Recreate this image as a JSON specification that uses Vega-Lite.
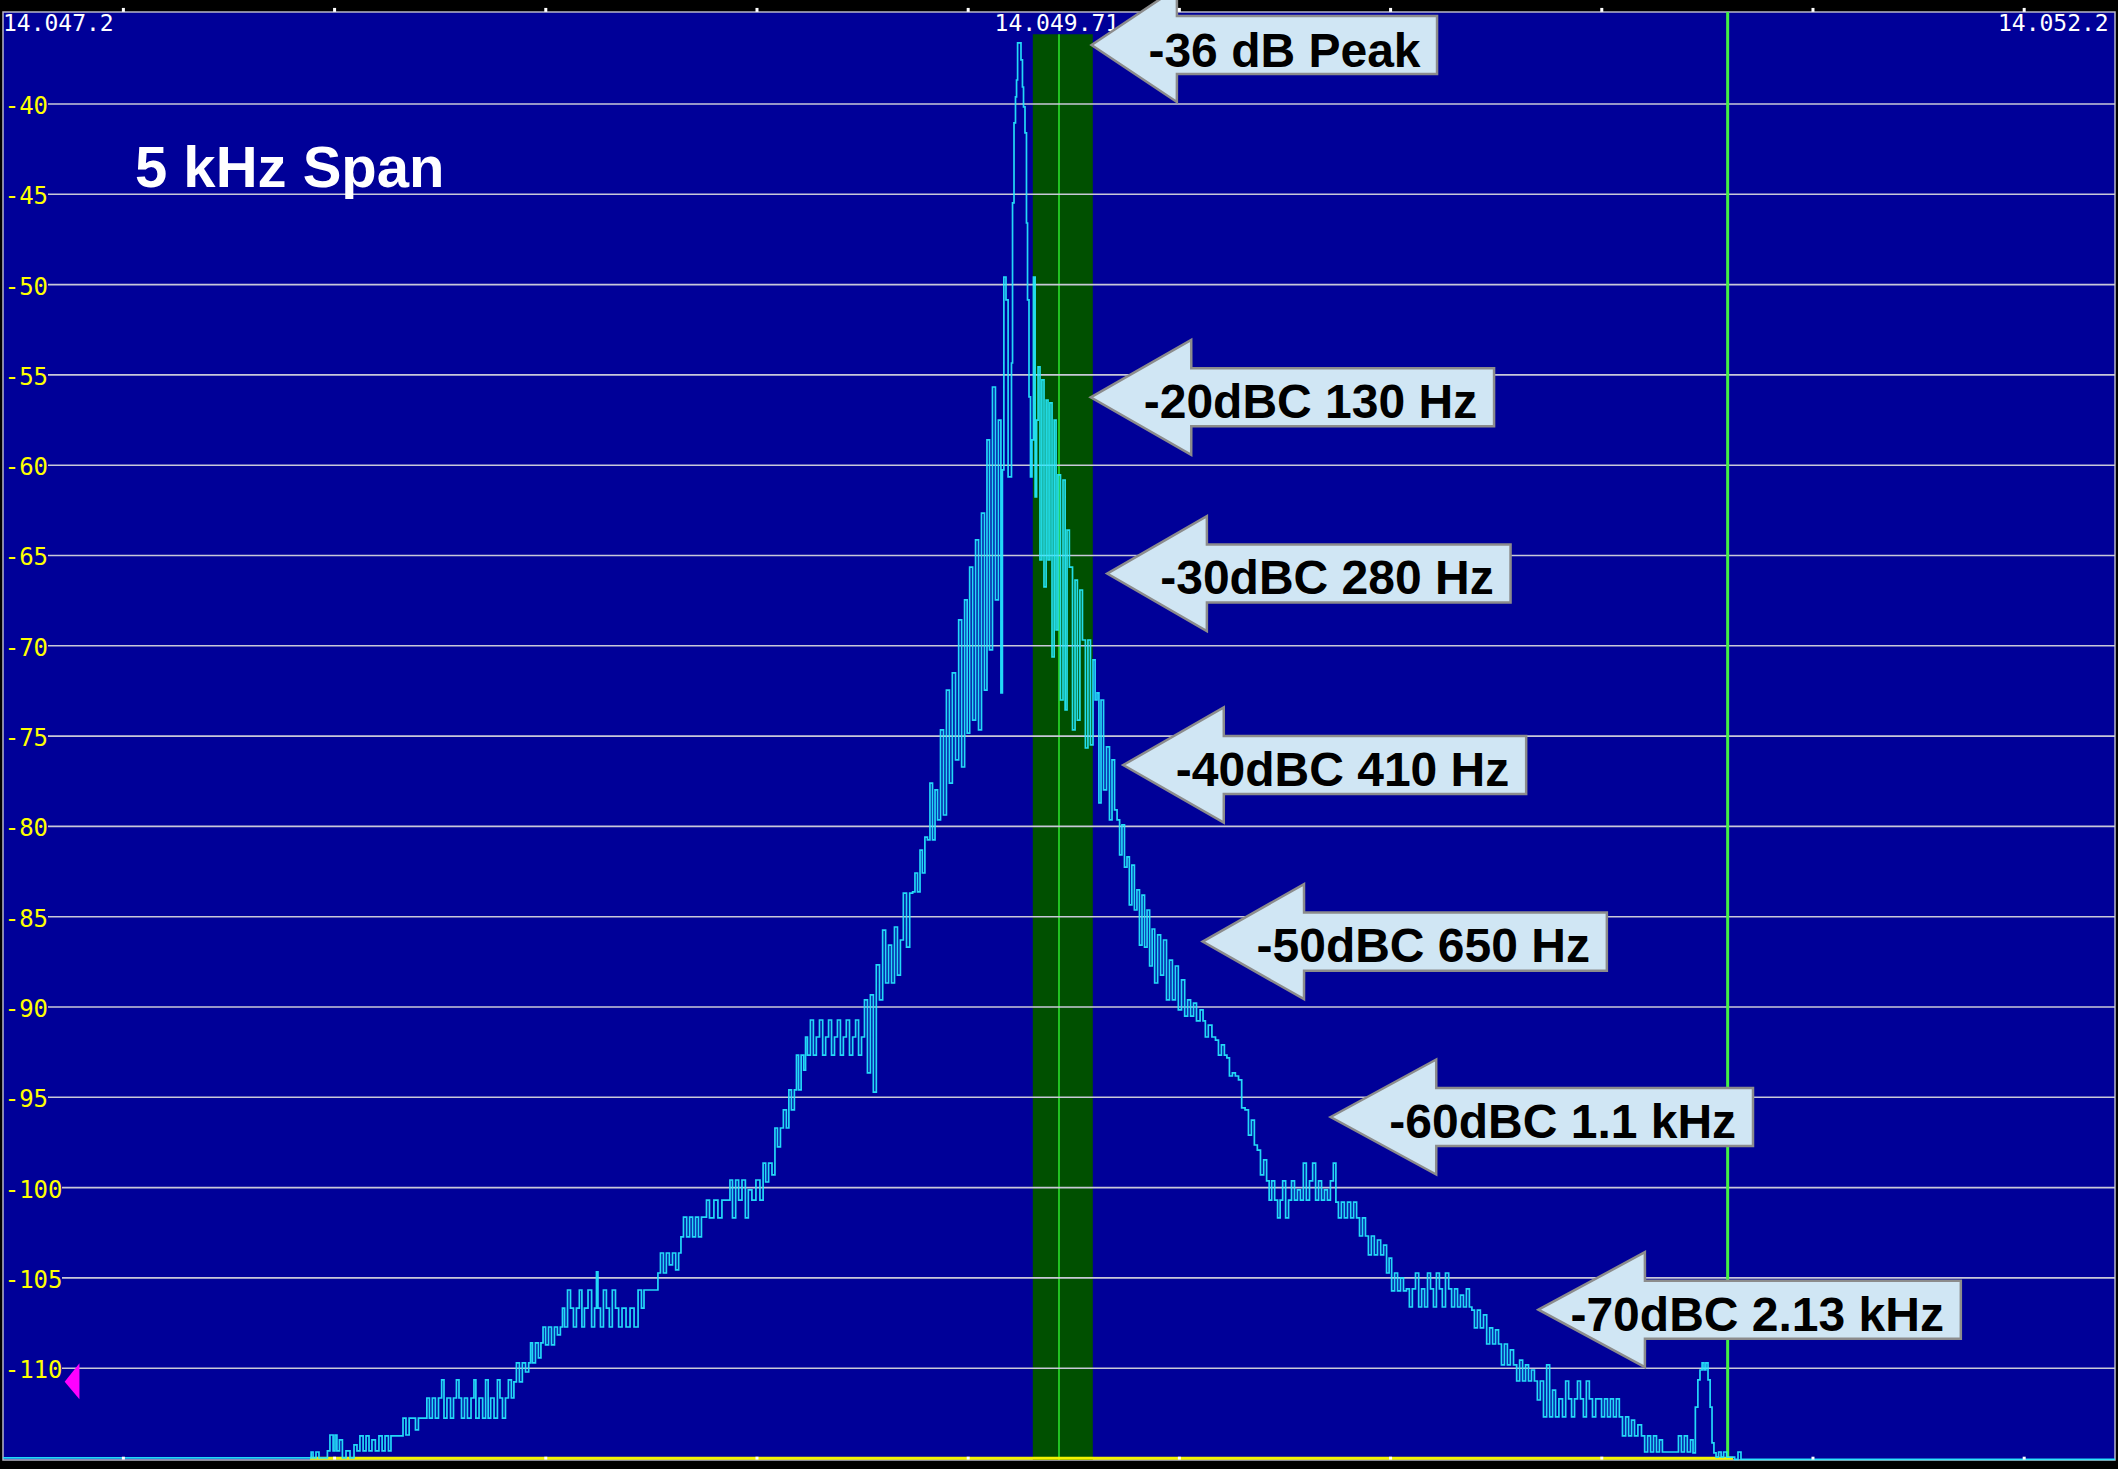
{
  "$schema": "https://vega.github.io/schema/vega-lite/v6.json",
  "autosize": {"type": "none"},
  "width": 2112,
  "height": 1448,
  "padding": {"left": 3, "right": 3, "top": 12, "bottom": 9},
  "background": "#000000",
  "config": {
    "view": {"fill": "#000098", "stroke": "#B8B8C8", "strokeWidth": 1.5},
    "axis": {"disable": true}
  },
  "datasets": {
    "grid": [{"db":-40},{"db":-45},{"db":-50},{"db":-55},{"db":-60},{"db":-65},{"db":-70},{"db":-75},{"db":-80},{"db":-85},{"db":-90},{"db":-95},{"db":-100},{"db":-105},{"db":-110}],
    "ticks": [{"f":14047.485},{"f":14047.985},{"f":14048.485},{"f":14048.985},{"f":14049.485},{"f":14049.985},{"f":14050.485},{"f":14050.985},{"f":14051.485},{"f":14051.985}],
    "freqlabels": [{"t":"14.047.2","f":14047.331},{"t":"14.049.71","f":14049.695},{"t":"14.052.2","f":14052.054}],
    "arrows": [
      {"id":1,"f":14049.777,"hi":-36.733,"lo":-36.733},{"id":1,"f":14049.979,"hi":-33.577,"lo":-39.889},{"id":1,"f":14049.9792,"hi":-35.127,"lo":-38.339},{"id":1,"f":14050.595,"hi":-35.127,"lo":-38.339},
      {"id":2,"f":14049.775,"hi":-56.24,"lo":-56.24},{"id":2,"f":14050.013,"hi":-53.056,"lo":-59.424},{"id":2,"f":14050.0132,"hi":-54.634,"lo":-57.846},{"id":2,"f":14050.730,"hi":-54.634,"lo":-57.846},
      {"id":3,"f":14049.814,"hi":-66.0,"lo":-66.0},{"id":3,"f":14050.050,"hi":-62.816,"lo":-69.184},{"id":3,"f":14050.0502,"hi":-64.394,"lo":-67.606},{"id":3,"f":14050.769,"hi":-64.394,"lo":-67.606},
      {"id":4,"f":14049.852,"hi":-76.6,"lo":-76.6},{"id":4,"f":14050.090,"hi":-73.416,"lo":-79.784},{"id":4,"f":14050.0902,"hi":-74.994,"lo":-78.206},{"id":4,"f":14050.806,"hi":-74.994,"lo":-78.206},
      {"id":5,"f":14050.040,"hi":-86.38,"lo":-86.38},{"id":5,"f":14050.280,"hi":-83.196,"lo":-89.564},{"id":5,"f":14050.2802,"hi":-84.774,"lo":-87.986},{"id":5,"f":14050.997,"hi":-84.774,"lo":-87.986},
      {"id":6,"f":14050.343,"hi":-96.09,"lo":-96.09},{"id":6,"f":14050.593,"hi":-92.906,"lo":-99.274},{"id":6,"f":14050.5932,"hi":-94.484,"lo":-97.696},{"id":6,"f":14051.343,"hi":-94.484,"lo":-97.696},
      {"id":7,"f":14050.835,"hi":-106.76,"lo":-106.76},{"id":7,"f":14051.087,"hi":-103.576,"lo":-109.944},{"id":7,"f":14051.0872,"hi":-105.154,"lo":-108.366},{"id":7,"f":14051.835,"hi":-105.154,"lo":-108.366}
    ],
    "notes": [
      {"t":"-36 dB Peak","f":14050.556,"db":-37.93},
      {"t":"-20dBC 130 Hz","f":14050.690,"db":-57.38},
      {"t":"-30dBC 280 Hz","f":14050.729,"db":-67.13},
      {"t":"-40dBC 410 Hz","f":14050.766,"db":-77.78},
      {"t":"-50dBC 650 Hz","f":14050.957,"db":-87.52},
      {"t":"-60dBC 1.1 kHz","f":14051.303,"db":-97.28},
      {"t":"-70dBC 2.13 kHz","f":14051.795,"db":-107.95}
    ],
    "trace": [
      {"f":14047.200,"db":-114.97},{"f":14047.927,"db":-114.97},{"f":14047.932,"db":-114.64},{"f":14047.936,"db":-114.97},{"f":14047.946,"db":-114.64},{"f":14047.950,"db":-114.97},{"f":14047.967,"db":-114.97},{"f":14047.969,"db":-114.58},{"f":14047.979,"db":-113.70},{"f":14047.984,"db":-114.58},{"f":14047.988,"db":-113.70},{"f":14047.993,"db":-114.58},{"f":14048.000,"db":-113.97},{"f":14048.007,"db":-114.97},{"f":14048.017,"db":-114.58},{"f":14048.026,"db":-114.97},{"f":14048.036,"db":-114.25},{"f":14048.040,"db":-114.58},{"f":14048.050,"db":-113.75},{"f":14048.055,"db":-114.58},{"f":14048.064,"db":-113.75},{"f":14048.069,"db":-114.58},{"f":14048.078,"db":-113.97},{"f":14048.085,"db":-114.58},{"f":14048.095,"db":-113.75},{"f":14048.100,"db":-114.58},{"f":14048.109,"db":-113.75},{"f":14048.116,"db":-114.58},{"f":14048.121,"db":-113.75},{"f":14048.145,"db":-113.75},{"f":14048.149,"db":-112.76},{"f":14048.159,"db":-113.70},{"f":14048.164,"db":-112.76},{"f":14048.173,"db":-112.76},{"f":14048.180,"db":-113.42},{"f":14048.187,"db":-112.76},{"f":14048.197,"db":-112.76},{"f":14048.201,"db":-112.76},{"f":14048.206,"db":-111.65},{"f":14048.213,"db":-112.76},{"f":14048.220,"db":-111.65},{"f":14048.227,"db":-112.76},{"f":14048.235,"db":-111.65},{"f":14048.242,"db":-110.65},{"f":14048.246,"db":-112.76},{"f":14048.256,"db":-111.65},{"f":14048.263,"db":-112.76},{"f":14048.270,"db":-111.65},{"f":14048.277,"db":-110.65},{"f":14048.282,"db":-111.65},{"f":14048.289,"db":-112.76},{"f":14048.296,"db":-111.65},{"f":14048.303,"db":-112.76},{"f":14048.313,"db":-111.65},{"f":14048.317,"db":-110.65},{"f":14048.322,"db":-112.76},{"f":14048.332,"db":-111.65},{"f":14048.339,"db":-112.76},{"f":14048.346,"db":-110.65},{"f":14048.351,"db":-112.76},{"f":14048.358,"db":-111.65},{"f":14048.367,"db":-112.76},{"f":14048.374,"db":-110.65},{"f":14048.379,"db":-111.65},{"f":14048.386,"db":-112.76},{"f":14048.393,"db":-111.65},{"f":14048.400,"db":-110.65},{"f":14048.407,"db":-111.65},
      {"f":14048.412,"db":-110.76},{"f":14048.419,"db":-109.71},{"f":14048.426,"db":-110.76},{"f":14048.433,"db":-109.71},{"f":14048.441,"db":-110.21},{"f":14048.448,"db":-109.71},{"f":14048.450,"db":-108.60},{"f":14048.457,"db":-109.71},{"f":14048.464,"db":-108.60},{"f":14048.471,"db":-109.43},{"f":14048.476,"db":-108.60},{"f":14048.481,"db":-107.72},{"f":14048.488,"db":-108.71},{"f":14048.495,"db":-107.72},{"f":14048.502,"db":-108.71},{"f":14048.509,"db":-107.72},{"f":14048.516,"db":-108.16},{"f":14048.523,"db":-107.72},
      {"f":14048.526,"db":-106.67},{"f":14048.533,"db":-107.72},{"f":14048.540,"db":-105.67},{"f":14048.547,"db":-106.67},{"f":14048.554,"db":-107.72},{"f":14048.561,"db":-106.67},{"f":14048.568,"db":-105.67},{"f":14048.573,"db":-107.72},{"f":14048.580,"db":-106.67},{"f":14048.590,"db":-105.67},{"f":14048.597,"db":-107.72},{"f":14048.604,"db":-106.67},{"f":14048.606,"db":-104.67},{"f":14048.611,"db":-106.67},{"f":14048.618,"db":-107.72},{"f":14048.625,"db":-105.67},{"f":14048.632,"db":-106.67},{"f":14048.639,"db":-107.72},{"f":14048.646,"db":-105.67},{"f":14048.654,"db":-106.67},{"f":14048.661,"db":-107.72},{"f":14048.670,"db":-106.67},{"f":14048.680,"db":-107.72},{"f":14048.689,"db":-106.67},{"f":14048.699,"db":-107.72},{"f":14048.708,"db":-105.67},{"f":14048.715,"db":-106.67},{"f":14048.720,"db":-105.67},{"f":14048.748,"db":-105.67},
      {"f":14048.753,"db":-104.73},{"f":14048.760,"db":-103.62},{"f":14048.767,"db":-104.73},{"f":14048.774,"db":-103.62},{"f":14048.781,"db":-104.28},{"f":14048.789,"db":-103.62},{"f":14048.796,"db":-104.56},{"f":14048.803,"db":-103.62},
      {"f":14048.807,"db":-102.73},{"f":14048.815,"db":-101.63},{"f":14048.822,"db":-102.73},{"f":14048.829,"db":-101.63},{"f":14048.836,"db":-102.73},{"f":14048.843,"db":-101.63},{"f":14048.850,"db":-102.73},{"f":14048.857,"db":-101.63},{"f":14048.864,"db":-101.63},
      {"f":14048.867,"db":-100.69},{"f":14048.878,"db":-101.68},{"f":14048.888,"db":-100.69},{"f":14048.897,"db":-101.68},{"f":14048.907,"db":-100.69},{"f":14048.919,"db":-100.69},{"f":14048.923,"db":-99.58},{"f":14048.931,"db":-101.68},{"f":14048.938,"db":-99.58},{"f":14048.945,"db":-100.69},{"f":14048.954,"db":-99.58},{"f":14048.961,"db":-101.68},{"f":14048.968,"db":-100.13},{"f":14048.978,"db":-100.69},{"f":14048.987,"db":-99.58},{"f":14048.997,"db":-100.69},
      {"f":14049.002,"db":-98.64},{"f":14049.009,"db":-99.69},{"f":14049.016,"db":-98.64},{"f":14049.025,"db":-99.30},{"f":14049.030,"db":-96.70},{"f":14049.037,"db":-97.75},{"f":14049.044,"db":-96.70},{"f":14049.051,"db":-95.70},{"f":14049.058,"db":-96.70},{"f":14049.063,"db":-94.59},{"f":14049.070,"db":-95.70},{"f":14049.077,"db":-94.59},{"f":14049.080,"db":-92.66},{"f":14049.087,"db":-94.59},{"f":14049.092,"db":-92.66},{"f":14049.099,"db":-93.49},
      {"f":14049.101,"db":-91.66},{"f":14049.108,"db":-92.66},{"f":14049.115,"db":-90.72},{"f":14049.122,"db":-92.66},{"f":14049.129,"db":-91.66},{"f":14049.137,"db":-90.72},{"f":14049.144,"db":-92.66},{"f":14049.151,"db":-91.66},{"f":14049.158,"db":-90.72},{"f":14049.165,"db":-92.66},{"f":14049.172,"db":-91.66},{"f":14049.179,"db":-90.72},{"f":14049.186,"db":-92.66},{"f":14049.193,"db":-91.66},{"f":14049.200,"db":-90.72},{"f":14049.208,"db":-92.66},{"f":14049.215,"db":-91.66},{"f":14049.222,"db":-90.72},{"f":14049.229,"db":-92.66},{"f":14049.236,"db":-91.66},
      {"f":14049.243,"db":-89.61},{"f":14049.250,"db":-93.65},{"f":14049.257,"db":-89.33},{"f":14049.264,"db":-94.71},{"f":14049.271,"db":-87.67},{"f":14049.279,"db":-89.61},{"f":14049.286,"db":-85.74},{"f":14049.293,"db":-88.67},{"f":14049.300,"db":-86.57},{"f":14049.307,"db":-88.67},{"f":14049.314,"db":-85.57},{"f":14049.321,"db":-88.23},{"f":14049.328,"db":-86.29},{"f":14049.335,"db":-83.69},{"f":14049.343,"db":-86.68},{"f":14049.350,"db":-83.69},{"f":14049.357,"db":-83.63},{"f":14049.361,"db":-82.58},{"f":14049.369,"db":-83.63},{"f":14049.373,"db":-81.31},{"f":14049.380,"db":-82.58},{"f":14049.385,"db":-80.59},{"f":14049.392,"db":-80.75},{"f":14049.397,"db":-77.60},{"f":14049.404,"db":-80.75},{"f":14049.409,"db":-77.98},{"f":14049.416,"db":-79.64},{"f":14049.423,"db":-74.66},{"f":14049.430,"db":-79.37},{"f":14049.437,"db":-72.45},{"f":14049.444,"db":-77.60},{"f":14049.451,"db":-71.50},{"f":14049.459,"db":-76.32},{"f":14049.466,"db":-68.57},{"f":14049.473,"db":-76.71},{"f":14049.480,"db":-67.46},{"f":14049.485,"db":-74.83},{"f":14049.492,"db":-65.64},{"f":14049.499,"db":-74.11},{"f":14049.506,"db":-64.14},{"f":14049.513,"db":-74.66},{"f":14049.520,"db":-62.65},{"f":14049.527,"db":-72.45},{"f":14049.532,"db":-58.60},{"f":14049.539,"db":-70.23},{"f":14049.546,"db":-55.67},{"f":14049.553,"db":-67.46},{"f":14049.560,"db":-57.50},{"f":14049.565,"db":-72.61},{"f":14049.567,"db":-60.26},{"f":14049.572,"db":-49.58},{"f":14049.577,"db":-50.85},{"f":14049.582,"db":-60.65},{"f":14049.586,"db":-60.65},{"f":14049.589,"db":-54.34},{"f":14049.591,"db":-45.48},{"f":14049.596,"db":-41.05},{"f":14049.598,"db":-39.61},{"f":14049.601,"db":-38.67},{"f":14049.603,"db":-36.62},{"f":14049.608,"db":-36.62},{"f":14049.612,"db":-37.56},{"f":14049.615,"db":-39.06},{"f":14049.617,"db":-40.16},{"f":14049.622,"db":-41.60},{"f":14049.624,"db":-46.59},{"f":14049.627,"db":-50.85},{"f":14049.631,"db":-56.22},{"f":14049.634,"db":-60.65},{"f":14049.638,"db":-58.60},{"f":14049.641,"db":-49.58},{"f":14049.646,"db":-61.76},{"f":14049.648,"db":-57.50},{"f":14049.653,"db":-54.56},{"f":14049.657,"db":-65.25},{"f":14049.662,"db":-55.28},{"f":14049.667,"db":-66.74},{"f":14049.672,"db":-56.39},{"f":14049.676,"db":-65.25},{"f":14049.681,"db":-56.55},{"f":14049.686,"db":-70.62},{"f":14049.691,"db":-57.50},{"f":14049.695,"db":-69.12},{"f":14049.700,"db":-60.54},{"f":14049.707,"db":-73.00},{"f":14049.712,"db":-60.82},{"f":14049.717,"db":-73.55},{"f":14049.721,"db":-63.59},{"f":14049.728,"db":-65.64},{"f":14049.736,"db":-74.66},{"f":14049.740,"db":-66.36},{"f":14049.747,"db":-74.11},{"f":14049.752,"db":-66.91},{"f":14049.759,"db":-69.68},{"f":14049.766,"db":-75.66},{"f":14049.771,"db":-69.68},{"f":14049.778,"db":-75.49},{"f":14049.783,"db":-70.78},{"f":14049.788,"db":-73.00},{"f":14049.792,"db":-72.61},{"f":14049.797,"db":-78.70},{"f":14049.802,"db":-73.00},{"f":14049.809,"db":-77.98},{"f":14049.816,"db":-75.60},{"f":14049.823,"db":-79.64},{"f":14049.828,"db":-76.32},{"f":14049.835,"db":-79.09},{"f":14049.840,"db":-79.64},{"f":14049.847,"db":-81.58},{"f":14049.851,"db":-79.92},{"f":14049.859,"db":-82.25},{"f":14049.863,"db":-81.69},{"f":14049.870,"db":-84.35},{"f":14049.875,"db":-82.14},{"f":14049.882,"db":-84.63},{"f":14049.887,"db":-83.52},{"f":14049.894,"db":-86.57},{"f":14049.899,"db":-83.80},{"f":14049.906,"db":-86.68},{"f":14049.911,"db":-84.63},{"f":14049.918,"db":-87.73},{"f":14049.923,"db":-85.68},{"f":14049.930,"db":-88.67},{"f":14049.937,"db":-86.01},{"f":14049.944,"db":-88.23},{"f":14049.951,"db":-86.29},{"f":14049.958,"db":-89.61},{"f":14049.965,"db":-87.40},{"f":14049.972,"db":-89.61},{"f":14049.979,"db":-87.73},{"f":14049.986,"db":-90.16},{"f":14049.994,"db":-88.50},{"f":14050.001,"db":-90.50},{"f":14050.008,"db":-89.61},{"f":14050.015,"db":-90.50},{"f":14050.022,"db":-89.78},{"f":14050.029,"db":-90.77},{"f":14050.039,"db":-90.16},{"f":14050.043,"db":-90.77},{"f":14050.050,"db":-91.66},{"f":14050.057,"db":-91.00},{"f":14050.067,"db":-91.66},{"f":14050.074,"db":-91.83},{"f":14050.081,"db":-92.66},{"f":14050.088,"db":-92.10},{"f":14050.095,"db":-92.66},{"f":14050.100,"db":-92.82},{"f":14050.107,"db":-93.82},{"f":14050.114,"db":-93.65},{"f":14050.121,"db":-93.82},{"f":14050.129,"db":-94.04},{"f":14050.136,"db":-95.59},{"f":14050.145,"db":-95.70},{"f":14050.152,"db":-97.09},{"f":14050.159,"db":-96.26},{"f":14050.166,"db":-97.64},{"f":14050.173,"db":-97.92},{"f":14050.181,"db":-99.30},{"f":14050.188,"db":-98.47},{"f":14050.195,"db":-99.63},{"f":14050.200,"db":-100.69},{"f":14050.207,"db":-99.63},{"f":14050.214,"db":-100.69},{"f":14050.221,"db":-101.68},{"f":14050.226,"db":-100.69},{"f":14050.233,"db":-99.63},{"f":14050.240,"db":-101.68},{"f":14050.247,"db":-100.69},{"f":14050.254,"db":-99.63},{"f":14050.261,"db":-100.69},{"f":14050.268,"db":-100.13},{"f":14050.275,"db":-100.69},{"f":14050.282,"db":-98.64},{"f":14050.289,"db":-100.69},{"f":14050.297,"db":-99.63},{"f":14050.304,"db":-98.64},{"f":14050.311,"db":-100.69},{"f":14050.318,"db":-99.63},{"f":14050.325,"db":-100.69},{"f":14050.332,"db":-100.13},{"f":14050.339,"db":-100.69},{"f":14050.346,"db":-99.63},{"f":14050.353,"db":-98.64},{"f":14050.358,"db":-100.80},{"f":14050.365,"db":-101.68},{"f":14050.372,"db":-100.80},{"f":14050.379,"db":-101.68},{"f":14050.387,"db":-100.80},{"f":14050.394,"db":-101.68},{"f":14050.401,"db":-100.80},{"f":14050.408,"db":-101.68},{"f":14050.415,"db":-102.68},{"f":14050.422,"db":-101.68},{"f":14050.429,"db":-102.68},{"f":14050.436,"db":-103.73},{"f":14050.443,"db":-102.68},{"f":14050.450,"db":-103.73},{"f":14050.458,"db":-102.90},{"f":14050.465,"db":-103.73},{"f":14050.472,"db":-103.18},{"f":14050.479,"db":-104.73},{"f":14050.484,"db":-103.90},{"f":14050.491,"db":-105.72},{"f":14050.498,"db":-104.73},{"f":14050.505,"db":-105.72},{"f":14050.512,"db":-105.00},{"f":14050.519,"db":-105.72},{"f":14050.526,"db":-105.61},{"f":14050.533,"db":-106.61},{"f":14050.540,"db":-105.61},{"f":14050.548,"db":-104.73},{"f":14050.555,"db":-106.61},{"f":14050.562,"db":-105.61},{"f":14050.569,"db":-106.61},{"f":14050.576,"db":-104.73},{"f":14050.583,"db":-105.61},{"f":14050.590,"db":-106.61},{"f":14050.597,"db":-104.73},{"f":14050.604,"db":-105.61},{"f":14050.611,"db":-106.61},{"f":14050.619,"db":-104.73},{"f":14050.626,"db":-105.61},{"f":14050.633,"db":-106.61},{"f":14050.640,"db":-105.61},{"f":14050.647,"db":-106.61},{"f":14050.654,"db":-105.95},{"f":14050.661,"db":-106.61},{"f":14050.668,"db":-105.61},{"f":14050.675,"db":-106.61},{"f":14050.680,"db":-106.78},{"f":14050.687,"db":-107.77},{"f":14050.694,"db":-106.78},{"f":14050.701,"db":-107.77},{"f":14050.709,"db":-107.05},{"f":14050.716,"db":-108.66},{"f":14050.723,"db":-107.77},{"f":14050.730,"db":-108.66},{"f":14050.737,"db":-107.88},{"f":14050.744,"db":-108.66},{"f":14050.751,"db":-109.82},{"f":14050.758,"db":-108.66},{"f":14050.765,"db":-109.82},{"f":14050.772,"db":-108.99},{"f":14050.780,"db":-109.82},{"f":14050.787,"db":-110.71},{"f":14050.794,"db":-109.55},{"f":14050.801,"db":-110.71},{"f":14050.808,"db":-109.82},{"f":14050.815,"db":-110.71},{"f":14050.822,"db":-110.10},{"f":14050.829,"db":-110.71},{"f":14050.836,"db":-111.76},{"f":14050.843,"db":-110.71},{"f":14050.851,"db":-112.70},{"f":14050.858,"db":-109.82},{"f":14050.865,"db":-112.70},{"f":14050.872,"db":-111.21},{"f":14050.879,"db":-112.70},{"f":14050.888,"db":-111.70},{"f":14050.896,"db":-112.70},{"f":14050.903,"db":-110.71},{"f":14050.910,"db":-111.70},{"f":14050.917,"db":-112.70},{"f":14050.924,"db":-111.70},{"f":14050.931,"db":-110.71},{"f":14050.938,"db":-111.70},{"f":14050.945,"db":-112.70},{"f":14050.952,"db":-110.71},{"f":14050.959,"db":-111.70},{"f":14050.967,"db":-112.70},{"f":14050.974,"db":-111.70},{"f":14050.981,"db":-111.70},{"f":14050.988,"db":-112.70},{"f":14050.995,"db":-111.70},{"f":14051.002,"db":-112.70},{"f":14051.009,"db":-111.70},{"f":14051.016,"db":-112.70},{"f":14051.023,"db":-111.70},{"f":14051.030,"db":-112.70},{"f":14051.038,"db":-113.75},{"f":14051.045,"db":-112.70},{"f":14051.052,"db":-113.75},{"f":14051.059,"db":-112.87},{"f":14051.066,"db":-113.75},{"f":14051.075,"db":-113.14},{"f":14051.083,"db":-113.75},{"f":14051.090,"db":-114.64},{"f":14051.097,"db":-113.75},{"f":14051.104,"db":-114.64},{"f":14051.111,"db":-113.75},{"f":14051.118,"db":-114.64},{"f":14051.125,"db":-113.97},{"f":14051.132,"db":-114.64},{"f":14051.163,"db":-114.64},{"f":14051.170,"db":-113.75},{"f":14051.177,"db":-114.64},{"f":14051.184,"db":-113.75},{"f":14051.191,"db":-114.64},{"f":14051.199,"db":-113.97},{"f":14051.203,"db":-114.69},{"f":14051.210,"db":-112.15},{"f":14051.215,"db":-110.65},{"f":14051.220,"db":-110.10},{"f":14051.225,"db":-109.71},{"f":14051.229,"db":-110.10},{"f":14051.234,"db":-109.71},{"f":14051.239,"db":-110.65},{"f":14051.244,"db":-112.15},{"f":14051.248,"db":-114.14},{"f":14051.253,"db":-114.69},{"f":14051.258,"db":-114.92},{"f":14051.265,"db":-114.64},{"f":14051.270,"db":-114.92},{"f":14051.277,"db":-114.64},{"f":14051.284,"db":-114.92},{"f":14051.296,"db":-114.92},{"f":14051.303,"db":-115.05},{"f":14051.312,"db":-114.64},{"f":14051.317,"db":-115.05},{"f":14052.200,"db":-115.05}
    ]
  },
  "layer": [
    {
      "data": {"values": [{}]},
      "mark": {"type": "rect", "color": "#005000"},
      "encoding": {
        "x": {"datum": 14049.638, "type": "quantitative", "scale": {"domain": [14047.2, 14052.2], "nice": false, "zero": false}, "axis": null},
        "x2": {"datum": 14049.780},
        "y": {"datum": -36.14, "type": "quantitative", "scale": {"domain": [-115.083, -34.906], "nice": false, "zero": false}, "axis": null},
        "y2": {"datum": -115.083}
      }
    },
    {
      "data": {"values": [{}]},
      "mark": {"type": "rule", "color": "#33FF33", "strokeWidth": 1.3},
      "encoding": {
        "x": {"datum": 14049.700, "type": "quantitative"},
        "y": {"datum": -36.14, "type": "quantitative"},
        "y2": {"datum": -115.083}
      }
    },
    {
      "data": {"name": "grid"},
      "transform": [{"filter": "datum.db > -100"}],
      "mark": {"type": "rule", "color": "#C8C8D8", "strokeWidth": 1.6},
      "encoding": {
        "x": {"datum": 14047.3065, "type": "quantitative"},
        "x2": {"datum": 14052.2},
        "y": {"field": "db", "type": "quantitative"}
      }
    },
    {
      "data": {"name": "grid"},
      "transform": [{"filter": "datum.db <= -100"}],
      "mark": {"type": "rule", "color": "#C8C8D8", "strokeWidth": 1.6},
      "encoding": {
        "x": {"datum": 14047.3397, "type": "quantitative"},
        "x2": {"datum": 14052.2},
        "y": {"field": "db", "type": "quantitative"}
      }
    },
    {
      "data": {"values": [{}]},
      "mark": {"type": "rule", "color": "#44F044", "strokeWidth": 3},
      "encoding": {
        "x": {"datum": 14051.283, "type": "quantitative"},
        "y": {"datum": -34.906, "type": "quantitative"},
        "y2": {"datum": -115.083}
      }
    },
    {
      "data": {"values": [{}]},
      "mark": {"type": "rule", "color": "#F2F200", "strokeWidth": 3},
      "encoding": {
        "x": {"datum": 14047.927, "type": "quantitative"},
        "x2": {"datum": 14051.296},
        "y": {"datum": -114.99, "type": "quantitative"}
      }
    },
    {
      "data": {"name": "trace"},
      "mark": {"type": "line", "interpolate": "step", "color": "#26EAFF", "strokeWidth": 1.7, "opacity": 0.92},
      "encoding": {
        "x": {"field": "f", "type": "quantitative"},
        "y": {"field": "db", "type": "quantitative"}
      }
    },
    {
      "data": {"name": "grid"},
      "mark": {"type": "text", "color": "#FFFF00", "font": "DejaVu Sans Mono", "fontSize": 24, "align": "left", "baseline": "middle", "dy": 3},
      "encoding": {
        "x": {"datum": 14047.2040, "type": "quantitative"},
        "y": {"field": "db", "type": "quantitative"},
        "text": {"field": "db", "type": "nominal"}
      }
    },
    {
      "data": {"name": "freqlabels"},
      "mark": {"type": "text", "color": "#FFFFFF", "font": "DejaVu Sans Mono", "fontSize": 23, "align": "center", "baseline": "middle", "dy": 3},
      "encoding": {
        "x": {"field": "f", "type": "quantitative"},
        "y": {"datum": -35.40, "type": "quantitative"},
        "text": {"field": "t", "type": "nominal"}
      }
    },
    {
      "data": {"values": [{}]},
      "mark": {"type": "text", "color": "#FFFFFF", "font": "Liberation Sans", "fontWeight": "bold", "fontSize": 58, "align": "left", "baseline": "alphabetic", "text": "5 kHz Span"},
      "encoding": {
        "x": {"datum": 14047.5125, "type": "quantitative"},
        "y": {"datum": -44.594, "type": "quantitative"}
      }
    },
    {
      "data": {"name": "arrows"},
      "mark": {"type": "area", "interpolate": "linear", "fill": "#D0E6F4", "fillOpacity": 1, "stroke": "#8C8C8C", "strokeWidth": 2.5, "strokeJoin": "miter"},
      "encoding": {
        "x": {"field": "f", "type": "quantitative"},
        "y": {"field": "hi", "type": "quantitative"},
        "y2": {"field": "lo"},
        "detail": {"field": "id", "type": "nominal"}
      }
    },
    {
      "data": {"name": "notes"},
      "mark": {"type": "text", "color": "#000000", "font": "Liberation Sans", "fontWeight": "bold", "fontSize": 48, "align": "right", "baseline": "alphabetic"},
      "encoding": {
        "x": {"field": "f", "type": "quantitative"},
        "y": {"field": "db", "type": "quantitative"},
        "text": {"field": "t", "type": "nominal"}
      }
    },
    {
      "data": {"values": [{"f": 14047.346, "hi": -110.75, "lo": -110.75}, {"f": 14047.381, "hi": -109.73, "lo": -111.72}]},
      "mark": {"type": "area", "color": "#FF00FF", "interpolate": "linear"},
      "encoding": {
        "x": {"field": "f", "type": "quantitative"},
        "y": {"field": "hi", "type": "quantitative"},
        "y2": {"field": "lo"}
      }
    },
    {
      "data": {"name": "ticks"},
      "mark": {"type": "rule", "color": "#FFFFFF", "strokeWidth": 3},
      "encoding": {
        "x": {"field": "f", "type": "quantitative"},
        "y": {"datum": -34.68, "type": "quantitative"},
        "y2": {"datum": -34.90}
      }
    },
    {
      "data": {"name": "ticks"},
      "mark": {"type": "rule", "color": "#FFFFFF", "strokeWidth": 3},
      "encoding": {
        "x": {"field": "f", "type": "quantitative"},
        "y": {"datum": -114.90, "type": "quantitative"},
        "y2": {"datum": -115.06}
      }
    }
  ]
}
